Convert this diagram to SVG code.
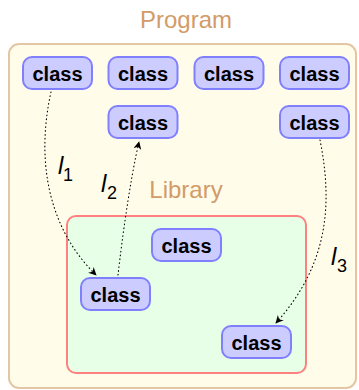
<svg xmlns="http://www.w3.org/2000/svg" width="359" height="390" viewBox="0 0 359 390">
  <defs>
    <marker id="arrow" viewBox="0 0 10 10" refX="9" refY="5" markerWidth="8" markerHeight="8" markerUnits="userSpaceOnUse" orient="auto">
      <path d="M0,0 L10,5 L0,10 L3,5 Z" fill="#000"/>
    </marker>
  </defs>
  <style>
    .title { font-family: "Liberation Sans", Arial, sans-serif; font-size: 24px; fill: #D29B68; text-anchor: middle; }
    .node rect { fill: #CCCCFF; stroke: #8080FF; stroke-width: 2; }
    .node text { font-family: "Liberation Sans", Arial, sans-serif; font-weight: bold; font-size: 20px; fill: #000; text-anchor: middle; }
    .link { fill: none; stroke: #000; stroke-width: 1.1; stroke-dasharray: 0.7 3.2; stroke-linecap: round; marker-end: url(#arrow); }
    .lbl { font-family: "Liberation Sans", Arial, sans-serif; font-style: italic; font-size: 24px; fill: #000; }
    .sub { font-family: "Liberation Sans", Arial, sans-serif; font-size: 18px; fill: #000; }
  </style>

  <!-- Program container -->
  <g id="program">
    <rect x="9" y="44" width="347" height="344" rx="10" fill="#FFFCEA" stroke="#E3C6A4" stroke-width="2"/>
    <text class="title" x="186" y="28">Program</text>
  </g>

  <!-- Library container -->
  <g id="library">
    <rect x="67" y="216" width="239" height="157" rx="9" fill="#E6FFE6" stroke="#FF8080" stroke-width="2"/>
    <text class="title" x="186" y="198">Library</text>
  </g>

  <!-- Program classes -->
  <g id="class-p1" class="node"><rect x="23" y="57" width="69" height="32" rx="9"/><text x="57.5" y="81">class</text></g>
  <g id="class-p2" class="node"><rect x="108.5" y="57" width="69" height="32" rx="9"/><text x="143" y="81">class</text></g>
  <g id="class-p3" class="node"><rect x="194.5" y="57" width="69" height="32" rx="9"/><text x="229" y="81">class</text></g>
  <g id="class-p4" class="node"><rect x="280" y="57" width="69" height="32" rx="9"/><text x="314.5" y="81">class</text></g>
  <g id="class-p5" class="node"><rect x="108.5" y="106" width="69" height="32" rx="9"/><text x="143" y="130">class</text></g>
  <g id="class-p6" class="node"><rect x="280" y="106" width="69" height="32" rx="9"/><text x="314.5" y="130">class</text></g>

  <!-- Library classes -->
  <g id="class-l1" class="node"><rect x="152" y="229" width="69" height="32" rx="9"/><text x="186.5" y="253">class</text></g>
  <g id="class-l2" class="node"><rect x="81" y="278" width="69" height="32" rx="9"/><text x="115.5" y="302">class</text></g>
  <g id="class-l3" class="node"><rect x="222" y="326" width="69" height="32" rx="9"/><text x="256.5" y="350">class</text></g>

  <!-- Dotted references between classes -->
  <g id="connectors">
    <path class="link" d="M51,92 C37,155 45,225 96,275"/>
    <path class="link" d="M118,275 C122,240 130,180 139,142"/>
    <path class="link" d="M320,140 C333,205 328,265 276,323"/>
  </g>

  <!-- Connector labels -->
  <g id="labels">
    <text class="lbl" x="58" y="174">l</text><text class="sub" x="63" y="181">1</text>
    <text class="lbl" x="101" y="192">l</text><text class="sub" x="107" y="199">2</text>
    <text class="lbl" x="331" y="265">l</text><text class="sub" x="337" y="272">3</text>
  </g>
</svg>
